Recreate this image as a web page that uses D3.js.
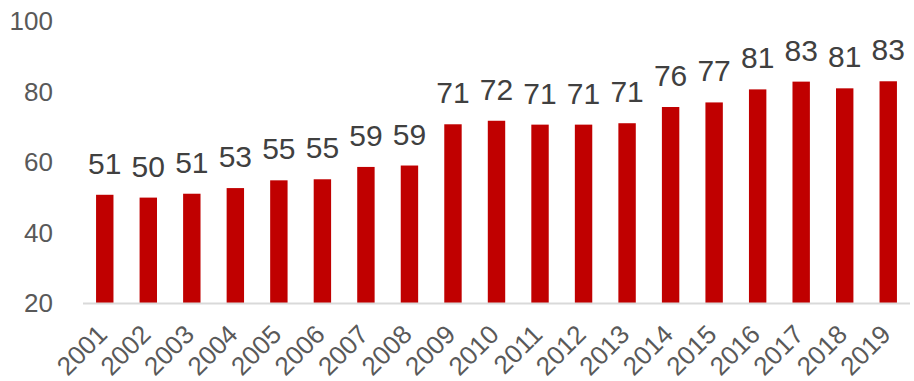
<!doctype html>
<html lang="en">
<head>
<meta charset="utf-8">
<title>Bar chart 2001-2019</title>
<style>
  body { margin: 0; background: #fff; }
  svg { display: block; font-family: "Liberation Sans", Arial, sans-serif; }
</style>
<script src="https://d3js.org/d3.v7.min.js"></script>
</head>
<body>
<svg id="chart"></svg>
<script>
let width = 914,
    height = 381;

// data
let years = ["2001", "2002", "2003", "2004", "2005", "2006", "2007", "2008", "2009", "2010",
             "2011", "2012", "2013", "2014", "2015", "2016", "2017", "2018", "2019"];
let values = [50.7, 49.9, 51.0, 52.6, 54.8, 55.1, 58.6, 59.0, 70.7, 71.7,
              70.6, 70.6, 71.0, 75.6, 76.9, 80.6, 82.8, 80.9, 82.9];
let yTicks = [20, 40, 60, 80, 100];

let data = years.map((y, i) => ({ year: y, value: values[i] }));

let svg = d3.select("#chart")
    .attr("width", width)
    .attr("height", height);

let x = d3.scaleBand()
    .domain(years)
    .range([83, 910])
    .paddingInner(0.6)
    .paddingOuter(0.3);

let y = d3.scaleLinear()
    .domain([20, 100])
    .range([303, 21]);

// y tick labels (no axis line)
svg.append("g")
  .selectAll("text")
  .data(yTicks)
  .enter()
  .append("text")
    .attr("x", 53)
    .attr("y", d => y(d))
    .attr("dy", "0.35em")
    .attr("text-anchor", "end")
    .attr("fill", "#595959")
    .style("font-size", "26px")
    .text(d => d);

// bars
svg.append("g")
  .selectAll("rect")
  .data(data)
  .enter()
  .append("rect")
    .attr("x", d => x(d.year))
    .attr("y", d => y(d.value))
    .attr("width", x.bandwidth())
    .attr("height", d => y(20) - y(d.value))
    .attr("fill", "#c00000");

// baseline
svg.append("line")
    .attr("x1", 83)
    .attr("x2", 910)
    .attr("y1", y(20) + 0.5)
    .attr("y2", y(20) + 0.5)
    .attr("stroke", "#d9d9d9")
    .attr("stroke-width", 2);

// value labels
svg.append("g")
  .selectAll("text")
  .data(data)
  .enter()
  .append("text")
    .attr("x", d => x(d.year) + x.bandwidth() / 2)
    .attr("y", d => y(d.value) - 21)
    .attr("text-anchor", "middle")
    .attr("fill", "#404040")
    .style("font-size", "30px")
    .text(d => d3.format(".0f")(d.value));

// x labels, rotated
svg.append("g")
  .selectAll("text")
  .data(years)
  .enter()
  .append("text")
    .attr("transform", d => "translate(" + (x(d) + x.bandwidth() / 2 + 4) + ",336) rotate(-45)")
    .attr("text-anchor", "end")
    .attr("fill", "#595959")
    .style("font-size", "26px")
    .text(d => d);
</script>
</body>
</html>
